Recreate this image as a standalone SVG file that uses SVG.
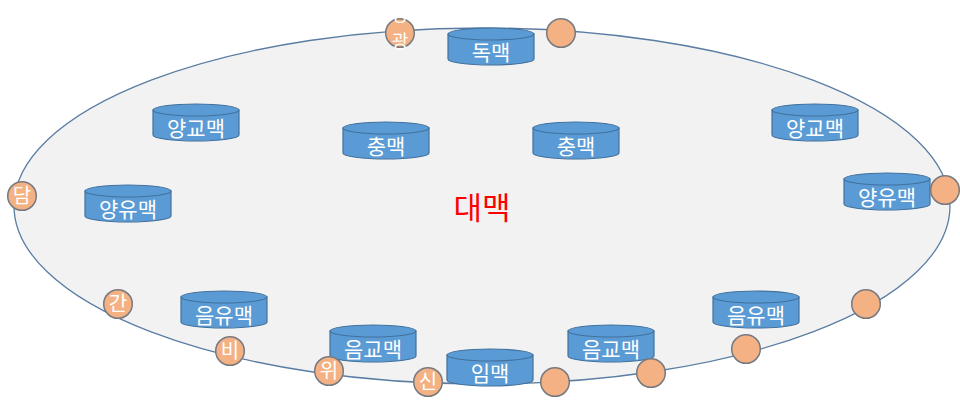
<svg xmlns="http://www.w3.org/2000/svg" width="960" height="407" viewBox="0 0 960 407">
<defs>
<style>
.bg{fill:#FFFFFF}
.belt{fill:#F2F2F2;stroke:#5A7DA3;stroke-width:1.3}
.cyl{fill:#5B9BD5;stroke:#41719C;stroke-width:1.2}
.ct{fill:#FFFFFF;font-family:"Noto Sans CJK KR","Noto Sans",sans-serif;font-size:21px;text-anchor:middle}
.org{fill:#F4B183;stroke:#767a80;stroke-width:1.5}
.ot{fill:#FFFFFF;font-family:"Noto Sans CJK KR","Noto Sans",sans-serif;font-size:20px;text-anchor:middle}
.ot2{fill:#FFFFFF;font-family:"Noto Sans CJK KR","Noto Sans",sans-serif;font-size:18px;text-anchor:middle}
.main{fill:#FF0000;font-family:"Noto Sans CJK KR","Noto Sans",sans-serif;font-size:31px;text-anchor:middle}
</style>
<g id="can">
<path class="cyl" d="M0 6 L0 31 A43 6 0 0 0 86 31 L86 6 Z"/>
<ellipse class="cyl" cx="43" cy="6" rx="43" ry="6"/>
</g>
</defs>
<rect class="bg" x="0" y="0" width="960" height="407"/>
<g id="belt-vessel">
<ellipse class="belt" cx="482" cy="206" rx="468" ry="178"/>
<text class="main" x="482" y="219">대맥</text>
</g>
<g id="connectors"></g>
<g id="dokmaek" transform="translate(448,28)"><use href="#can"/><text class="ct" x="43" y="31.5">독맥</text></g>
<g id="yanggyo-left" transform="translate(153,104)"><use href="#can"/><text class="ct" x="43" y="31.5">양교맥</text></g>
<g id="chung-left" transform="translate(343,122)"><use href="#can"/><text class="ct" x="43" y="31.5">충맥</text></g>
<g id="chung-right" transform="translate(533,122)"><use href="#can"/><text class="ct" x="43" y="31.5">충맥</text></g>
<g id="yanggyo-right" transform="translate(772,104)"><use href="#can"/><text class="ct" x="43" y="31.5">양교맥</text></g>
<g id="yangyu-left" transform="translate(85,185)"><use href="#can"/><text class="ct" x="43" y="31.5">양유맥</text></g>
<g id="yangyu-right" transform="translate(844,173)"><use href="#can"/><text class="ct" x="43" y="31.5">양유맥</text></g>
<g id="eumyu-left" transform="translate(181,291)"><use href="#can"/><text class="ct" x="43" y="31.5">음유맥</text></g>
<g id="eumgyo-left" transform="translate(330,325)"><use href="#can"/><text class="ct" x="43" y="31.5">음교맥</text></g>
<g id="immaek" transform="translate(447,349)"><use href="#can"/><text class="ct" x="43" y="31.5">임맥</text></g>
<g id="eumgyo-right" transform="translate(568,325)"><use href="#can"/><text class="ct" x="43" y="31.5">음교맥</text></g>
<g id="eumyu-right" transform="translate(713,291)"><use href="#can"/><text class="ct" x="43" y="31.5">음유맥</text></g>
<g id="bangwang"><circle class="org" cx="400" cy="33" r="14.3"/><text class="ot2" x="400" y="21">방</text><text class="ot2" x="400" y="48">광</text></g>
<g id="organ-top-right"><circle class="org" cx="561" cy="33" r="14.3"/></g>
<g id="dam"><circle class="org" cx="22" cy="196" r="14.3"/><text class="ot" x="22" y="203">담</text></g>
<g id="organ-right"><circle class="org" cx="945" cy="190" r="14.3"/></g>
<g id="gan"><circle class="org" cx="118" cy="304" r="14.3"/><text class="ot" x="118" y="311">간</text></g>
<g id="bi"><circle class="org" cx="230" cy="351" r="14.3"/><text class="ot" x="230" y="358">비</text></g>
<g id="wi"><circle class="org" cx="329" cy="371" r="14.3"/><text class="ot" x="329" y="378">위</text></g>
<g id="sin"><circle class="org" cx="428" cy="382" r="14.3"/><text class="ot" x="428" y="389">신</text></g>
<g id="organ-b1"><circle class="org" cx="555" cy="382" r="14.3"/></g>
<g id="organ-b2"><circle class="org" cx="651" cy="373" r="14.3"/></g>
<g id="organ-b3"><circle class="org" cx="746" cy="349" r="14.3"/></g>
<g id="organ-b4"><circle class="org" cx="866" cy="304" r="14.3"/></g>
</svg>
